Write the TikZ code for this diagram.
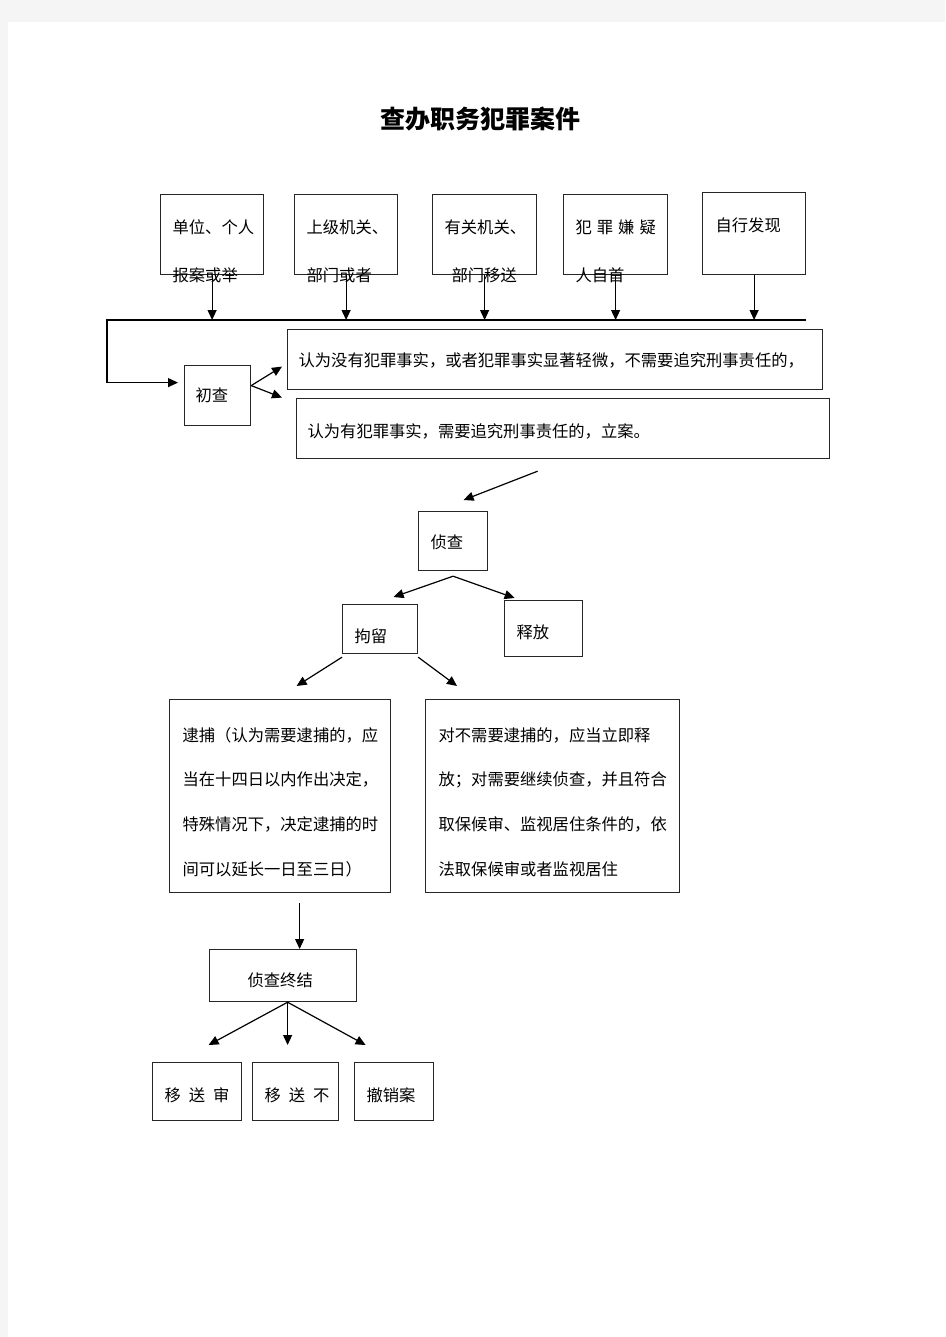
\documentclass[tikz,border=0pt]{standalone}
\usepackage{fontspec}
\newfontfamily\cjk{Noto Sans CJK SC}
\usetikzlibrary{arrows.meta,positioning,calc}

\begin{document}
\begin{tikzpicture}[x=1pt,y=-1pt,>={Triangle[length=10pt,width=9pt]},line width=1.2pt,
    box/.style={draw=black!85,inner sep=0pt,anchor=north west},
    txt/.style={font=\cjk\fontsize{16.3}{16.3}\selectfont,inner sep=0pt,anchor=west}]
  \useasboundingbox (0,0) rectangle (945,1337);
  \fill[black!4] (0,0) rectangle (945,1337);
  \fill[white] (8,22) rectangle (945,1337);

  \node[font=\cjk\bfseries\fontsize{25}{25}\selectfont,inner sep=0pt] (title) at (480,119) {查办职务犯罪案件};

  % sources
  \node[box,minimum width=103pt,minimum height=80pt] (src1) at (160,194) {};
  \node[box,minimum width=103pt,minimum height=80pt] (src2) at (294,194) {};
  \node[box,minimum width=104pt,minimum height=80pt] (src3) at (432,194) {};
  \node[box,minimum width=104pt,minimum height=80pt] (src4) at (563,194) {};
  \node[box,minimum width=103pt,minimum height=82pt] (src5) at (702,192) {};
  \node[txt] (src1a) at (172,227) {单位、个人};
  \node[txt] (src1b) at (172,275) {报案或举};
  \node[txt] (src2a) at (306,227) {上级机关、};
  \node[txt] (src2b) at (306,275) {部门或者};
  \node[txt] (src3a) at (444,227) {有关机关、};
  \node[txt] (src3b) at (451,275) {部门移送};
  \node[txt] (src4a) at (575,227) {犯\hspace{5pt}罪\hspace{5pt}嫌\hspace{5pt}疑};
  \node[txt] (src4b) at (575,275) {人自首};
  \node[txt] (src5a) at (715,225) {自行发现};

  \coordinate (busL) at (107,320);
  \coordinate (busR) at (806,320);
  \foreach \s in {src1,src2,src3,src4,src5}
    \draw[->] (\s.south) -- (\s.south |- busL);

  % preliminary check
  \node[box,minimum width=66pt,minimum height=60pt] (chucha) at (184,365) {};
  \node[txt] (chuchat) at (195,395) {初查};
  \draw[->] (busR) -- (busL) |- ([xshift=-6pt,yshift=13pt]chucha.west);

  \node[box,minimum width=535pt,minimum height=60pt] (nocase) at (287,329) {};
  \node[txt] (nocaset) at (298,360) {认为没有犯罪事实，或者犯罪事实显著轻微，不需要追究刑事责任的，};
  \node[box,minimum width=533pt,minimum height=60pt] (filed) at (296,398) {};
  \node[txt] (filedt) at (307,431) {认为有犯罪事实，需要追究刑事责任的，立案。};
  \draw[->] ([yshift=10pt]chucha.east) -- ([xshift=-5pt,yshift=-7pt]nocase.west);
  \draw[->] ([yshift=10pt]chucha.east) -- ([xshift=-14pt,yshift=31pt]filed.west);

  % investigation
  \node[box,minimum width=69pt,minimum height=59pt] (zhencha) at (418,511) {};
  \node[txt] (zhenchat) at (430,542) {侦查};
  \draw[->] ([xshift=-25.5pt,yshift=-12pt]filed.south) -- ([xshift=10.5pt,yshift=11pt]zhencha.north);

  \node[box,minimum width=75pt,minimum height=49pt] (juliu) at (342,604) {};
  \node[txt] (juliut) at (354,636) {拘留};
  \node[box,minimum width=78pt,minimum height=56pt] (shifang) at (504,600) {};
  \node[txt] (shifangt) at (516,632) {释放};
  \draw[->] ([yshift=-5pt]zhencha.south) -- ([xshift=13.5pt,yshift=7pt]juliu.north);
  \draw[->] ([yshift=-5pt]zhencha.south) -- ([xshift=-29pt,yshift=2pt]shifang.north);

  % arrest or release
  \node[box,minimum width=221pt,minimum height=193pt] (arrest) at (169,699) {};
  \node[box,minimum width=254pt,minimum height=193pt] (release) at (425,699) {};
  \foreach \l [count=\i] in {逮捕（认为需要逮捕的，应,当在十四日以内作出决定，,特殊情况下，决定逮捕的时,间可以延长一日至三日）}
    \node[txt] (arrest-\i) at (182,{735+44.7*(\i-1)}) {\l};
  \foreach \l [count=\i] in {对不需要逮捕的，应当立即释,放；对需要继续侦查，并且符合,取保候审、监视居住条件的，依,法取保候审或者监视居住}
    \node[txt] (release-\i) at (438,{735+44.7*(\i-1)}) {\l};
  \draw[->] ([yshift=-3pt]juliu.south west) -- ([xshift=16.5pt,yshift=13pt]arrest.north);
  \draw[->] ([yshift=-3pt]juliu.south east) -- ([xshift=32pt,yshift=13pt]release.north west);

  % end of investigation
  \node[box,minimum width=147pt,minimum height=52pt] (zhongjie) at (209,949) {};
  \node[txt] (zhongjiet) at (247,980) {侦查终结};
  \draw[->] ([xshift=19.5pt,yshift=-10pt]arrest.south) -- ([xshift=19.5pt]arrest.south |- zhongjie.north);

  \node[box,minimum width=89pt,minimum height=58pt] (out1) at (152,1062) {};
  \node[box,minimum width=86pt,minimum height=58pt] (out2) at (252,1062) {};
  \node[box,minimum width=79pt,minimum height=58pt] (out3) at (354,1062) {};
  \node[txt] (out1t) at (164,1095) {移\hspace{8pt}送\hspace{8pt}审};
  \node[txt] (out2t) at (264,1095) {移\hspace{8pt}送\hspace{8pt}不};
  \node[txt] (out3t) at (366,1095) {撤销案};
  \draw[->] ([xshift=4.5pt]zhongjie.south) -- ([xshift=11.5pt,yshift=17pt]out1.north);
  \draw[->] ([xshift=4.5pt]zhongjie.south) -- ([xshift=-8pt,yshift=17pt]out2.north);
  \draw[->] ([xshift=4.5pt]zhongjie.south) -- ([xshift=-28.5pt,yshift=17pt]out3.north);
\end{tikzpicture}
\end{document}
